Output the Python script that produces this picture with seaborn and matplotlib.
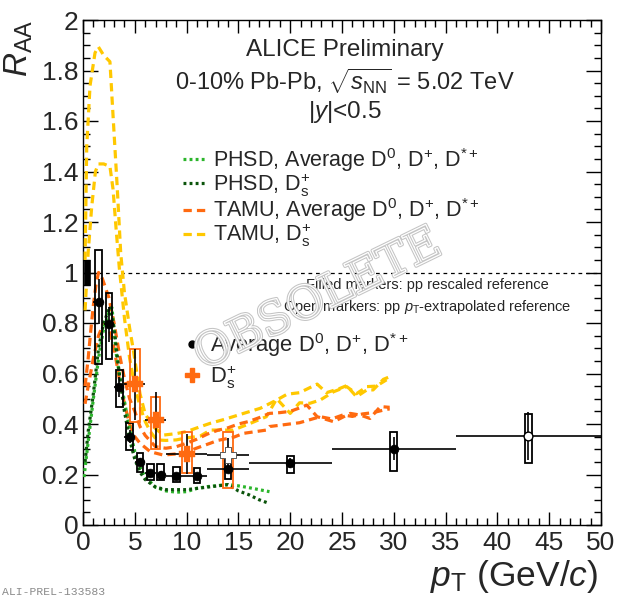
import numpy as np
import pandas as pd
import matplotlib
matplotlib.use("Agg")
import matplotlib.pyplot as plt
import matplotlib.patheffects as pe
from matplotlib.patches import Rectangle
from matplotlib.lines import Line2D
from matplotlib.ticker import MultipleLocator, FuncFormatter
import seaborn as sns

# ---------------- data ----------------
# Average D0, D+, D*+ (0-10% Pb-Pb)
d_pt = [1.5, 2.5, 3.5, 4.5, 5.5, 6.5, 7.5, 9, 11, 14, 20, 30, 43]
d_lo = [1, 2, 3, 4, 5, 6, 7, 8, 10, 12, 16, 24, 36]
d_hi = [2, 3, 4, 5, 6, 7, 8, 10, 12, 16, 24, 36, 50]
d_raa = [0.885, 0.795, 0.548, 0.350, 0.250, 0.207, 0.200, 0.195, 0.195, 0.220, 0.244, 0.302, 0.354]
d_stat = [0.09, 0.07, 0.04, 0.025, 0.015, 0.012, 0.012, 0.010, 0.012, 0.015, 0.020, 0.045, 0.095]
d_sys_up = [1.090, 0.918, 0.614, 0.403, 0.284, 0.242, 0.242, 0.228, 0.225, 0.257, 0.273, 0.370, 0.440]
d_sys_dn = [0.637, 0.656, 0.469, 0.297, 0.211, 0.178, 0.178, 0.172, 0.168, 0.183, 0.207, 0.215, 0.244]
d_open = [False] * 12 + [True]

# Ds+
ds_pt = [5, 7, 10, 14]
ds_lo = [4, 6, 8, 12]
ds_hi = [6, 8, 12, 16]
ds_raa = [0.557, 0.416, 0.281, 0.277]
ds_stat = [0.14, 0.11, 0.08, 0.066]
ds_sys_up = [0.696, 0.506, 0.370, 0.370]
ds_sys_dn = [0.409, 0.300, 0.207, 0.145]
ds_open = [False, False, False, True]

norm_unc = 0.05

# PHSD
phsd_d_x = [0.1, 0.5, 1.0, 1.5, 2.0, 2.5, 2.8, 3.2, 3.5, 4.0, 4.5, 5.0, 5.5, 6.0, 7.0, 8.0, 9.0, 10, 11, 12, 13, 14, 15, 16, 17, 18]
phsd_d_y = [0.19, 0.33, 0.50, 0.66, 0.78, 0.84, 0.86, 0.68, 0.60, 0.49, 0.38, 0.29, 0.23, 0.19, 0.15, 0.135, 0.13, 0.132, 0.145, 0.152, 0.156, 0.160, 0.155, 0.148, 0.140, 0.132]
phsd_ds_x = [0.2, 0.5, 1.0, 1.5, 2.0, 2.6, 3.0, 3.5, 4.0, 4.5, 5.0, 5.5, 6.0, 7.0, 8.0, 10, 12, 13, 14, 15, 16, 17, 18]
phsd_ds_y = [0.25, 0.37, 0.52, 0.70, 0.80, 0.865, 0.78, 0.60, 0.45, 0.34, 0.26, 0.21, 0.18, 0.15, 0.14, 0.14, 0.15, 0.155, 0.160, 0.135, 0.120, 0.100, 0.085]

# TAMU average D (band edges)
tamu_d_up_x = [0.2, 0.5, 0.75, 1.0, 1.25, 1.5, 1.75, 2.0, 2.5, 3.0, 3.5, 4.0, 4.5, 5.0, 5.5, 6.0, 7.0, 8.0, 9.0, 10, 11, 12, 13, 14, 15, 16, 17, 18, 19, 20, 21, 21.6, 22.6, 24.2, 25.8, 26.8, 27.7, 28.7, 29.6]
tamu_d_up_y = [0.55, 0.66, 0.77, 0.87, 0.95, 1.00, 0.99, 0.96, 0.90, 0.80, 0.68, 0.58, 0.50, 0.45, 0.39, 0.355, 0.31, 0.304, 0.31, 0.324, 0.34, 0.36, 0.375, 0.385, 0.40, 0.41, 0.425, 0.442, 0.445, 0.45, 0.465, 0.475, 0.429, 0.409, 0.442, 0.435, 0.422, 0.469, 0.466]
tamu_d_dn_x = [0.2, 0.5, 1.0, 1.5, 2.0, 2.5, 3.0, 3.5, 4.0, 4.5, 5.0, 5.5, 6.5, 7.75, 9.7, 11, 12.3, 13, 14.5, 15.5, 17.7, 18, 19, 20.9, 22.9, 24, 25.1, 26, 27, 28, 29, 29.6]
tamu_d_dn_y = [0.48, 0.55, 0.66, 0.75, 0.80, 0.78, 0.70, 0.58, 0.48, 0.40, 0.35, 0.324, 0.29, 0.277, 0.284, 0.305, 0.324, 0.335, 0.347, 0.363, 0.376, 0.39, 0.395, 0.405, 0.429, 0.42, 0.436, 0.43, 0.44, 0.445, 0.455, 0.46]

# TAMU Ds (band edges)
tamu_ds_up_x = [0.2, 0.36, 0.68, 1.16, 1.48, 2.0, 2.6, 2.93, 3.3, 3.64, 4.0, 4.5, 4.86, 5.5, 6.0, 6.8, 7.75, 9.0, 10, 11.3, 12.3, 13.7, 15.5, 17.1, 18.7, 19.7, 20.9, 22.6, 23.5, 24.8, 25.45, 26.4, 27.4, 28.0, 29.0, 29.6]
tamu_ds_up_y = [1.05, 1.50, 1.74, 1.87, 1.894, 1.86, 1.835, 1.60, 1.34, 1.077, 0.92, 0.78, 0.693, 0.52, 0.44, 0.389, 0.356, 0.362, 0.37, 0.389, 0.403, 0.419, 0.442, 0.462, 0.495, 0.518, 0.524, 0.558, 0.524, 0.541, 0.552, 0.508, 0.535, 0.535, 0.577, 0.587]
tamu_ds_dn_x = [0.2, 0.5, 0.84, 1.2, 1.48, 2.0, 2.6, 2.9, 3.2, 3.5, 4.0, 4.5, 5.0, 5.5, 6.0, 6.5, 7.1, 8.0, 9.0, 10, 11.3, 12.3, 14.5, 16, 17.7, 18.7, 20.0, 20.9, 21.9, 22.9, 24.2, 25.45, 26.4, 27.4, 28.3, 29.3]
tamu_ds_dn_y = [0.85, 1.08, 1.26, 1.40, 1.43, 1.43, 1.42, 1.33, 1.17, 1.02, 0.82, 0.66, 0.55, 0.47, 0.41, 0.37, 0.337, 0.335, 0.337, 0.345, 0.352, 0.376, 0.376, 0.40, 0.429, 0.50, 0.442, 0.484, 0.482, 0.495, 0.528, 0.548, 0.52, 0.548, 0.55, 0.575]

x_ticks = [0, 5, 10, 15, 20, 25, 30, 35, 40, 45, 50]
y_ticks = [0, 0.2, 0.4, 0.6, 0.8, 1.0, 1.2, 1.4, 1.6, 1.8, 2.0]

# ---------------- style ----------------
sns.set_theme(style="ticks")
plt.rcParams["font.family"] = ["Liberation Sans", "DejaVu Sans"]
plt.rcParams["mathtext.fontset"] = "custom"
plt.rcParams["mathtext.rm"] = "Liberation Sans"
plt.rcParams["mathtext.it"] = "Liberation Sans:italic"
plt.rcParams["mathtext.bf"] = "Liberation Sans:bold"
plt.rcParams["axes.linewidth"] = 1.0

C_LG = "#2bb52b"
C_DG = "#0b540b"
C_OR = "#ff6a10"
C_YE = "#ffc800"

fig = plt.figure(figsize=(6.2, 6.0), dpi=100)
W, H = 620, 600
ax = fig.add_axes([83 / W, 1 - 525 / H, (601 - 83) / W, (525 - 20) / H])
ax.set_facecolor("white")

dash = (0, (2.6, 1.6))
dot = (0, (0.9, 1.0))
LW = 2.3

def curve(x, y, color, ls, label=None):
    df = pd.DataFrame({"x": x, "y": y})
    sns.lineplot(data=df, x="x", y="y", ax=ax, color=color, linestyle=ls,
                 linewidth=LW, estimator=None, sort=False, label=label, legend=False, zorder=3)

curve(tamu_ds_up_x, tamu_ds_up_y, C_YE, dash)
curve(tamu_ds_dn_x, tamu_ds_dn_y, C_YE, dash)
curve(tamu_d_up_x, tamu_d_up_y, C_OR, dash)
curve(tamu_d_dn_x, tamu_d_dn_y, C_OR, dash)
curve(phsd_d_x, phsd_d_y, C_LG, dot)
curve(phsd_ds_x, phsd_ds_y, C_DG, dot)

# reference line at 1
ax.axhline(1.0, color="black", lw=0.9, ls=(0, (3, 3)), zorder=2)

# normalisation box
ax.add_patch(Rectangle((0.1, 1 - norm_unc), 0.6, 2 * norm_unc, facecolor="black",
                       edgecolor="black", lw=0.5, zorder=4))

# systematic boxes
bw_d, bw_ds = 0.65, 0.95
for x, lo, hi in zip(d_pt, d_sys_dn, d_sys_up):
    ax.add_patch(Rectangle((x - bw_d / 2, lo), bw_d, hi - lo, facecolor="none",
                           edgecolor="black", lw=1.3, zorder=5))
for x, lo, hi in zip(ds_pt, ds_sys_dn, ds_sys_up):
    ax.add_patch(Rectangle((x - bw_ds / 2, lo), bw_ds, hi - lo, facecolor="none",
                           edgecolor=C_OR, lw=1.3, zorder=6))

# stat errors + bin widths
d_pt_a = np.array(d_pt, float)
ax.errorbar(d_pt, d_raa, yerr=d_stat,
            xerr=[d_pt_a - np.array(d_lo), np.array(d_hi) - d_pt_a],
            fmt="none", ecolor="black", elinewidth=1.2, capsize=0, zorder=7)
ds_pt_a = np.array(ds_pt, float)
ax.errorbar(ds_pt, ds_raa, yerr=ds_stat,
            xerr=[ds_pt_a - np.array(ds_lo), np.array(ds_hi) - ds_pt_a],
            fmt="none", ecolor="black", elinewidth=1.2, capsize=0, zorder=7)

# markers
dfd = pd.DataFrame({"pt": d_pt, "raa": d_raa, "open": d_open})
sns.scatterplot(data=dfd[~dfd.open], x="pt", y="raa", ax=ax, marker="o", s=40,
                color="black", edgecolor="black", linewidth=0.5, zorder=8, legend=False)
sns.scatterplot(data=dfd[dfd.open], x="pt", y="raa", ax=ax, marker="o", s=40,
                color="white", edgecolor="black", linewidth=1.0, zorder=8, legend=False)
dfs = pd.DataFrame({"pt": ds_pt, "raa": ds_raa, "open": ds_open})
sns.scatterplot(data=dfs[~dfs.open], x="pt", y="raa", ax=ax, marker="P", s=120,
                color=C_OR, edgecolor=C_OR, linewidth=0.3, zorder=9, legend=False)
sns.scatterplot(data=dfs[dfs.open], x="pt", y="raa", ax=ax, marker="P", s=120,
                color="white", edgecolor="#444444", linewidth=0.6, zorder=9, legend=False)

# axes
ax.set_xlim(0, 50)
ax.set_ylim(0, 2)
ax.set_xlabel("")
ax.set_ylabel("")
ax.set_xticks(x_ticks)
ax.set_yticks(y_ticks)
ax.xaxis.set_minor_locator(MultipleLocator(1))
ax.yaxis.set_minor_locator(MultipleLocator(0.05))
ax.yaxis.set_major_formatter(FuncFormatter(lambda v, p: "%g" % v))
ax.xaxis.set_major_formatter(FuncFormatter(lambda v, p: "%g" % v))
ax.tick_params(axis="both", which="both", direction="in", top=True, right=True,
               labelsize=19, width=1.0, color="black")
ax.tick_params(axis="x", which="major", length=9.5, pad=4)
ax.tick_params(axis="x", which="minor", length=5)
ax.tick_params(axis="y", which="major", length=11, pad=3)
ax.tick_params(axis="y", which="minor", length=5)
for s in ax.spines.values():
    s.set_color("black")
    s.set_linewidth(1.0)

fig.text(3 / W, 1 - 20 / H, r"$R_{\rm AA}$", rotation=90, ha="left", va="top", fontsize=24)
fig.text(598 / W, 1 - 586 / H, r"$p_{\rm T}$ (GeV/$c$)", ha="right", va="baseline", fontsize=25.5)

# header text
cx = 345 / W
fig.text(cx, 1 - 50 / H, "ALICE Preliminary", ha="center", va="center", fontsize=17.5)
fig.text(cx, 1 - 81 / H, r"0-10% Pb-Pb, $\sqrt{s_{\rm NN}}$ = 5.02 TeV", ha="center", va="center", fontsize=17)
fig.text(cx, 1 - 112 / H, r"|$y$|<0.5", ha="center", va="center", fontsize=17.5)

# model legend
h_models = [Line2D([], [], color=C_LG, ls=dot, lw=LW),
            Line2D([], [], color=C_DG, ls=dot, lw=LW),
            Line2D([], [], color=C_OR, ls=dash, lw=LW),
            Line2D([], [], color=C_YE, ls=dash, lw=LW)]
l_models = [r"PHSD, Average D$^{0}$, D$^{+}$, D$^{*+}$",
            r"PHSD, D$_{\rm s}^{+}$",
            r"TAMU, Average D$^{0}$, D$^{+}$, D$^{*+}$",
            r"TAMU, D$_{\rm s}^{+}$"]
leg1 = ax.legend(h_models, l_models, loc="upper left", bbox_to_anchor=(183 / W, 1 - 146 / H),
                 bbox_transform=fig.transFigure, frameon=False, fontsize=15.5,
                 handlelength=1.1, handletextpad=0.3, labelspacing=-0.12, borderpad=0, borderaxespad=0)
ax.add_artist(leg1)

# marker legend
h_mk = [Line2D([], [], marker="o", color="black", ls="none", ms=5),
        Line2D([], [], marker="P", color=C_OR, ls="none", ms=10)]
l_mk = [r"Average D$^{0}$, D$^{+}$, D$^{*+}$", r"D$_{\rm s}^{+}$"]
leg2 = ax.legend(h_mk, l_mk, loc="upper left", bbox_to_anchor=(183 / W, 1 - 331 / H),
                 bbox_transform=fig.transFigure, frameon=False, fontsize=15.8,
                 handlelength=0.8, handletextpad=0.45, labelspacing=0.2, borderpad=0, borderaxespad=0)

fig.text(427 / W, 1 - 285 / H, "Filled markers: pp rescaled reference", ha="center", va="center", fontsize=10.5)
fig.text(427 / W, 1 - 307 / H, r"Open markers: pp $p_{\rm T}$-extrapolated reference", ha="center", va="center", fontsize=10.5)

# watermark
fig.text(318 / W, 1 - 300 / H, "OBSOLETE", rotation=26, ha="center", va="center",
         fontsize=33, family="DejaVu Serif", color="none",
         path_effects=[pe.Stroke(linewidth=2.4, foreground="#c4c4c4"),
                       pe.Stroke(linewidth=0.9, foreground="white")])

fig.text(2 / W, 1 - 592 / H, "ALI-PREL-133583", ha="left", va="center",
         fontsize=8.2, family="Liberation Mono", color="#8a8a8a")

fig.savefig("out.png", dpi=100, facecolor="white")
